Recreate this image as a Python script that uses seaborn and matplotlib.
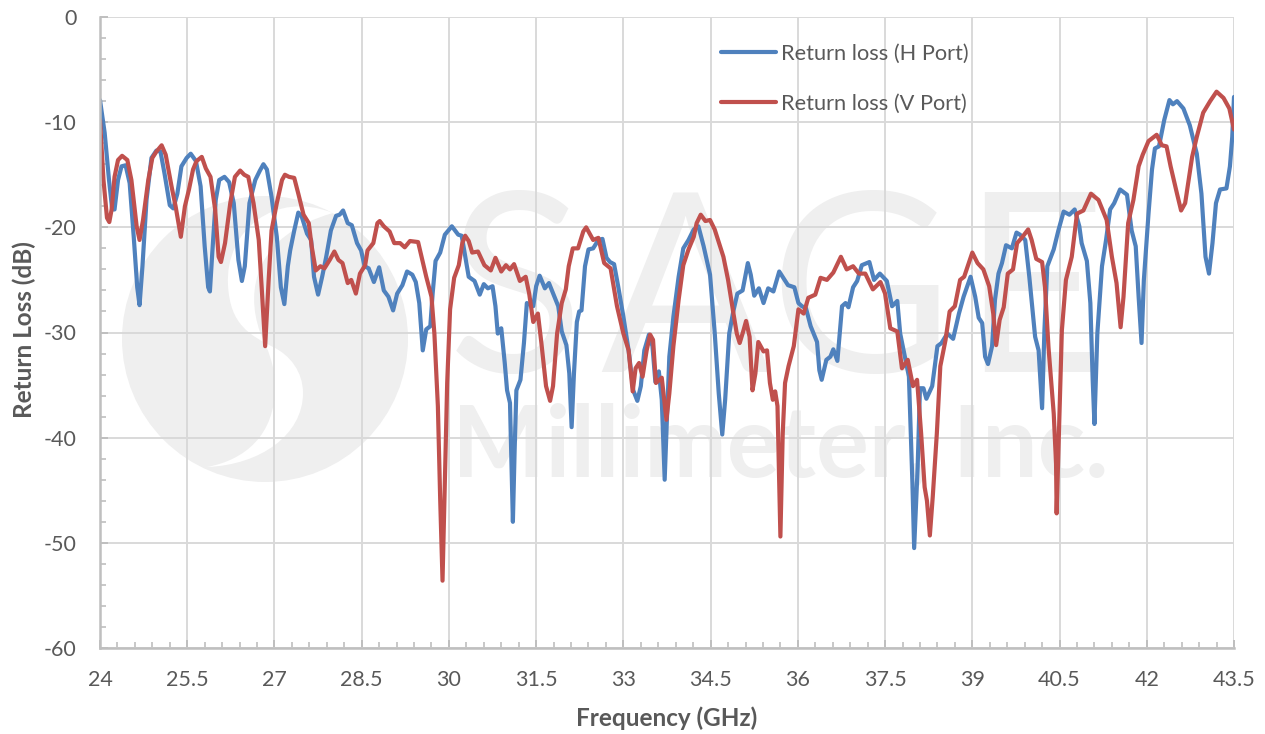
import matplotlib
matplotlib.use("Agg")
import matplotlib.pyplot as plt
from matplotlib.patches import Circle, PathPatch
from matplotlib.path import Path
from matplotlib.ticker import MultipleLocator, FuncFormatter
from matplotlib.transforms import Affine2D
import seaborn as sns

# значения
h_freq = [24, 24.08, 24.155, 24.21, 24.25, 24.31, 24.37, 24.44, 24.51, 24.58, 24.64, 24.68, 24.73, 24.8, 24.885, 24.97,
          25.04, 25.11, 25.2, 25.26, 25.33, 25.4, 25.49, 25.56, 25.65, 25.73, 25.8, 25.86, 25.89, 25.93, 25.99, 26.05,
          26.14, 26.22, 26.3, 26.38, 26.44, 26.49, 26.57, 26.67, 26.75, 26.81, 26.87, 26.95, 27.04, 27.11, 27.17, 27.23,
          27.27, 27.34, 27.41, 27.47, 27.56, 27.63, 27.68, 27.75, 27.82, 27.89, 27.97, 28.06, 28.12, 28.18, 28.26, 28.33,
          28.42, 28.49, 28.55, 28.62, 28.71, 28.8, 28.88, 28.96, 29.04, 29.11, 29.2, 29.28, 29.37, 29.43, 29.49, 29.55,
          29.61, 29.68, 29.72, 29.77, 29.85, 29.93, 30.05, 30.16, 30.22, 30.27, 30.34, 30.44, 30.53, 30.6, 30.67, 30.75,
          30.8, 30.84, 30.9, 30.96, 31, 31.05, 31.07, 31.1, 31.13, 31.16, 31.23, 31.29, 31.34, 31.45, 31.5, 31.56,
          31.65, 31.72, 31.8, 31.88, 31.94, 32.02, 32.07, 32.11, 32.15, 32.2, 32.24, 32.28, 32.34, 32.4, 32.48, 32.57,
          32.64, 32.71, 32.77, 32.84, 32.91, 33, 33.09, 33.17, 33.24, 33.3, 33.36, 33.44, 33.5, 33.55, 33.61, 33.66,
          33.71, 33.75, 33.79, 33.86, 33.95, 34.03, 34.12, 34.21, 34.29, 34.38, 34.49, 34.57, 34.64, 34.7, 34.75, 34.82,
          34.89, 34.96, 35.05, 35.14, 35.19, 35.25, 35.33, 35.41, 35.49, 35.58, 35.68, 35.75, 35.83, 35.94, 36.01, 36.07,
          36.14, 36.22, 36.33, 36.37, 36.41, 36.49, 36.56, 36.61, 36.68, 36.76, 36.82, 36.87, 36.95, 37.02, 37.1, 37.23,
          37.31, 37.41, 37.53, 37.62, 37.71, 37.76, 37.83, 37.91, 37.97, 38, 38.06, 38.1, 38.16, 38.21, 38.31, 38.4,
          38.47, 38.57, 38.67, 38.77, 38.85, 38.97, 39.05, 39.11, 39.17, 39.22, 39.27, 39.34, 39.39, 39.45, 39.51, 39.58,
          39.68, 39.76, 39.82, 39.91, 39.98, 40.08, 40.14, 40.2, 40.24, 40.29, 40.4, 40.48, 40.57, 40.67, 40.76, 40.84,
          40.88, 40.97, 41.03, 41.07, 41.1, 41.15, 41.23, 41.3, 41.37, 41.44, 41.54, 41.66, 41.74, 41.81, 41.86, 41.91,
          41.95, 42.03, 42.09, 42.14, 42.21, 42.3, 42.39, 42.45, 42.52, 42.63, 42.74, 42.86, 42.94, 43.01, 43.07, 43.13,
          43.19, 43.26, 43.37, 43.43, 43.47, 43.5]
h_loss = [-7.9, -11, -15.5, -18.3, -18.3, -15.5, -14.2, -14.1, -15.8, -20.9, -25.7, -27.4, -23.7, -17.4, -13.4, -12.7,
          -12.8, -14.9, -17.9, -18.2, -16.8, -14.2, -13.4, -13, -13.7, -16.1, -21.8, -25.7, -26.1, -22.5, -17.4, -15.5,
          -15.2, -15.7, -17.7, -23.1, -25.1, -23.7, -17.7, -15.5, -14.6, -14, -14.5, -17.1, -20.9, -25.7, -27.3, -23.7,
          -22.2, -20.3, -18.6, -19, -20.6, -21.2, -24.7, -26.4, -24.7, -22.8, -20.3, -18.9, -18.8, -18.4, -19.6, -19.8,
          -21.5, -22.2, -23.7, -23.9, -25.2, -23.8, -26, -26.6, -27.9, -26.3, -25.5, -24.2, -24.5, -25.2, -27.2, -31.7,
          -29.7, -29.4, -26.3, -23.2, -22.4, -20.7, -19.9, -20.7, -20.8, -22.4, -24.7, -25.1, -26.4, -25.4, -25.8, -25.6,
          -27.5, -30.1, -29.6, -32.9, -35.5, -36.7, -41.2, -48, -41.2, -35.5, -34.5, -31, -27.2, -27.5, -25.6, -24.6,
          -25.8, -25.3, -26.4, -27.5, -29.9, -31.2, -33.9, -39, -33.9, -29, -28, -27.9, -23.7, -22.1, -22, -21.2,
          -21.1, -22.9, -23.3, -23.5, -25.6, -28.5, -31.7, -35.5, -36.5, -35.1, -31.7, -30.2, -31.3, -34.7, -33.7, -36.4,
          -44, -38, -32.3, -28.5, -24.7, -22, -21.2, -20.2, -19.9, -21.8, -24.5, -30, -35.8, -39.7, -36.4, -30.1,
          -28, -26.3, -26, -23.4, -24.5, -26.5, -25.8, -27.2, -25.8, -26.1, -24.2, -24.8, -25.5, -25.7, -27.2, -27.5,
          -27.7, -29.4, -30.9, -33.6, -34.5, -32.6, -32.3, -31.6, -32.7, -27.5, -27.2, -27.6, -25.7, -25.1, -23.6, -23.3,
          -25, -24.4, -25.1, -27.5, -27, -30.1, -32, -34.2, -44.3, -50.5, -42.8, -35.3, -35.3, -36.3, -35.1, -31.3,
          -31, -30.1, -30.6, -28.2, -26.6, -24.7, -26.6, -28.6, -29.1, -32.3, -33, -31.3, -26.9, -24.4, -23.4, -21.7,
          -22, -20.5, -20.7, -21.2, -24.7, -30.4, -31.7, -37.2, -29.8, -23.7, -22.1, -20.3, -18.5, -18.8, -18.3, -19.9,
          -21.5, -23.2, -27.2, -34.5, -38.7, -30.1, -23.7, -21.2, -18.3, -17.7, -16.4, -16.9, -20.3, -21.8, -26.6, -31,
          -25, -18.7, -14.5, -12.5, -12.3, -9.8, -7.9, -8.3, -8, -8.7, -10.3, -13, -16.8, -22.8, -24.4, -21.5,
          -17.7, -16.4, -16.3, -14.2, -11.4, -7.6]

v_freq = [24, 24.06, 24.12, 24.16, 24.2, 24.25, 24.31, 24.38, 24.47, 24.54, 24.63, 24.68, 24.74, 24.83, 24.9, 24.97,
          25.06, 25.13, 25.23, 25.3, 25.39, 25.46, 25.53, 25.6, 25.66, 25.75, 25.82, 25.9, 25.98, 26.04, 26.08, 26.15,
          26.24, 26.32, 26.41, 26.48, 26.55, 26.64, 26.73, 26.78, 26.84, 26.9, 26.95, 27.04, 27.13, 27.18, 27.25, 27.34,
          27.41, 27.5, 27.59, 27.64, 27.71, 27.79, 27.86, 27.95, 28.03, 28.1, 28.17, 28.26, 28.32, 28.4, 28.47, 28.56,
          28.6, 28.7, 28.77, 28.81, 28.88, 28.98, 29.06, 29.16, 29.24, 29.33, 29.47, 29.61, 29.7, 29.75, 29.81, 29.85,
          29.89, 29.93, 29.97, 30.02, 30.09, 30.17, 30.23, 30.28, 30.34, 30.4, 30.5, 30.61, 30.72, 30.8, 30.9, 30.98,
          31.05, 31.12, 31.22, 31.32, 31.38, 31.45, 31.53, 31.59, 31.67, 31.74, 31.79, 31.86, 31.94, 32.01, 32.06, 32.13,
          32.22, 32.31, 32.36, 32.43, 32.48, 32.57, 32.67, 32.78, 32.89, 33, 33.09, 33.16, 33.21, 33.27, 33.33, 33.4,
          33.46, 33.51, 33.56, 33.66, 33.74, 33.79, 33.86, 33.95, 34.03, 34.12, 34.21, 34.26, 34.33, 34.41, 34.49, 34.57,
          34.72, 34.8, 34.89, 34.95, 35, 35.06, 35.11, 35.17, 35.22, 35.27, 35.32, 35.41, 35.47, 35.52, 35.57, 35.61,
          35.65, 35.7, 35.74, 35.78, 35.84, 35.93, 36.01, 36.1, 36.18, 36.3, 36.39, 36.5, 36.61, 36.74, 36.84, 36.95,
          37.05, 37.16, 37.29, 37.42, 37.5, 37.59, 37.71, 37.79, 37.89, 37.98, 38.05, 38.12, 38.18, 38.22, 38.27, 38.32,
          38.39, 38.45, 38.54, 38.61, 38.7, 38.79, 38.86, 39, 39.09, 39.19, 39.29, 39.36, 39.41, 39.47, 39.54, 39.61,
          39.7, 39.77, 39.85, 39.96, 40.02, 40.1, 40.2, 40.25, 40.31, 40.4, 40.44, 40.45, 40.49, 40.54, 40.61, 40.71,
          40.8, 40.91, 41.04, 41.17, 41.31, 41.4, 41.48, 41.55, 41.6, 41.68, 41.77, 41.86, 41.93, 42.03, 42.17, 42.26,
          42.34, 42.41, 42.52, 42.59, 42.66, 42.78, 42.86, 42.97, 43.09, 43.2, 43.32, 43.42, 43.5]
v_loss = [-9.8, -15.5, -19.1, -19.5, -18.3, -15.2, -13.6, -13.2, -13.6, -15.5, -19.9, -21.2, -19.3, -15.5, -13.4, -12.8,
          -12.2, -13.1, -16.1, -18, -20.9, -18, -16.4, -14.5, -13.7, -13.3, -14.4, -15.2, -18.3, -22.8, -23.3, -21.5,
          -17.7, -15.2, -14.6, -15, -15.2, -17.7, -21.2, -25.7, -31.3, -25, -20.3, -17.7, -15.5, -15, -15.2, -15.3,
          -16.8, -18.8, -19.6, -21.8, -24.1, -23.7, -23.9, -23.1, -22.3, -23.1, -23.4, -25.3, -25, -26.3, -24.4, -23.6,
          -22.2, -21.5, -19.6, -19.4, -19.9, -20.4, -21.5, -21.5, -21.9, -21.3, -21.4, -24.7, -26.6, -30.1, -37, -45.9,
          -53.6, -44.3, -34.8, -27.8, -24.8, -23.6, -21.5, -20.8, -21.3, -22.4, -22.3, -23.6, -24.1, -22.9, -24.2, -23.6,
          -24, -23.5, -25.1, -24.7, -26.3, -29, -28.2, -31, -35.1, -36.5, -35.1, -30.1, -27.2, -25.9, -23.7, -22,
          -22, -20.4, -20, -20.7, -21.2, -21, -23.4, -23.9, -27.5, -30.1, -31.7, -35.6, -33.4, -32.9, -34.2, -31.7,
          -30.2, -30.7, -34.8, -34.3, -38.3, -35.8, -31.3, -26.9, -23.6, -22.1, -20.9, -19.6, -18.8, -19.4, -19.3, -20.2,
          -22.8, -25, -28.1, -30.1, -31, -29.9, -28.9, -30.4, -35.5, -33.9, -30.9, -31.8, -31.7, -34.8, -36.4, -35.6,
          -37, -49.4, -39.6, -34.8, -33.2, -31.3, -27.8, -28.2, -26.7, -26.4, -24.8, -25, -24.3, -22.8, -24, -23.7,
          -24.4, -24.4, -25.9, -25.2, -26.3, -29.6, -29.9, -33.4, -32.6, -35.1, -34.5, -39.6, -44.7, -46, -49.3, -45.6,
          -39.6, -33.2, -30.7, -28, -27.5, -25, -24.7, -22.4, -23.4, -24, -25.6, -28.2, -31.2, -28.8, -27.6, -24.4,
          -24, -21.5, -21, -20.2, -21.2, -23, -23.3, -25.7, -31.4, -37.7, -42.5, -47.2, -39.3, -29.8, -25, -22.8,
          -18.7, -18.4, -16.8, -17.4, -19.3, -22.8, -25.3, -29.5, -26.6, -19.6, -17.4, -14.2, -13.1, -11.8, -11.2, -12.2,
          -12.3, -14.2, -16.8, -18.4, -17.7, -13.3, -11.4, -9.1, -8, -7.1, -7.7, -8.7, -10.7]

H_LABEL = "Return loss (H Port)"
V_LABEL = "Return loss (V Port)"
H_COLOR = "#4F81BD"
V_COLOR = "#C0504D"
GRID = "#D9D9D9"
AXIS = "#BFBFBF"
TEXT = "#595959"
MARK = "#EFEFEF"

W, H = 1265, 734

sns.set_style("white")
plt.rcParams["font.family"] = ["Lato", "DejaVu Sans"]

fig = plt.figure(figsize=(W / 100, H / 100), dpi=100)
ax = fig.add_axes([100 / W, 1 - 648 / H, 1134 / W, 631 / H])

# водяной знак, координаты в пикселях картинки (y вниз)
px = Affine2D().scale(1, -1).translate(0, H)
ax.add_patch(Circle((265, 339), 143, transform=px, fc=MARK, ec="none", zorder=0.1, clip_on=False))
swirl_pts = [(333, 213),
             (275, 190), (225, 230), (228, 285),
             (230, 325), (250, 335), (273, 347),
             (290, 355), (303, 372), (303, 393),
             (303, 435), (260, 465), (207, 467),
             (245, 460), (275, 435), (275, 387),
             (275, 365), (268, 350), (260, 332),
             (245, 290), (255, 235), (333, 213)]
swirl_codes = [Path.MOVETO] + [Path.CURVE4] * (len(swirl_pts) - 1)
ax.add_patch(PathPatch(Path(swirl_pts, swirl_codes), transform=px, fc="white", ec="none", zorder=0.2, clip_on=False))
for letter, left in zip("SAGE", [448, 600, 769, 961]):
    ax.text(left, 372, letter, transform=px, fontsize=180, color=MARK, ha="left", va="baseline", zorder=0.3)
ax.text(452, 477, "Millimeter, Inc.", transform=px, fontsize=71, fontweight="bold", color=MARK,
        ha="left", va="baseline", zorder=0.3)

line_kw = dict(estimator=None, linewidth=3, solid_joinstyle="round", ax=ax)
sns.lineplot(x=h_freq, y=h_loss, color=H_COLOR, label=H_LABEL, **line_kw)
sns.lineplot(x=v_freq, y=v_loss, color=V_COLOR, label=V_LABEL, **line_kw)

ax.set_xlim(24, 43.5)
ax.set_ylim(-60, 0)
ax.xaxis.set_major_locator(MultipleLocator(1.5))
ax.xaxis.set_minor_locator(MultipleLocator(0.3))
ax.yaxis.set_major_locator(MultipleLocator(10))
ax.yaxis.set_minor_locator(MultipleLocator(2))
ax.xaxis.set_major_formatter(FuncFormatter(lambda v, p: f"{v:g}"))
ax.yaxis.set_major_formatter(FuncFormatter(lambda v, p: f"{v:g}"))

ax.set_axisbelow(True)
ax.grid(True, which="major", color=GRID, linewidth=1.4)
ax.tick_params(which="major", direction="in", length=6, width=1.4, color=AXIS, labelsize=15.5, labelcolor=TEXT,
               bottom=True, left=True)
ax.tick_params(axis="x", which="major", pad=16)
ax.tick_params(axis="y", which="major", pad=17)
ax.tick_params(which="minor", direction="in", length=4, width=1.2, color=AXIS, bottom=True, left=True)

for side in ["top", "right"]:
    ax.spines[side].set_visible(False)
for side in ["left", "bottom"]:
    ax.spines[side].set_color(AXIS)
    ax.spines[side].set_linewidth(1.8)

ax.set_xlabel("Frequency (GHz)", fontsize=17.5, fontweight="bold", color=TEXT)
ax.set_ylabel("Return Loss (dB)", fontsize=17.5, fontweight="bold", color=TEXT)
ax.xaxis.set_label_coords(667 / W, 1 - 718 / H, transform=fig.transFigure)
ax.yaxis.set_label_coords(24 / W, 1 - 330 / H, transform=fig.transFigure)
ax.xaxis.label.set_va("center")
ax.yaxis.label.set_va("center")

leg = ax.legend(loc="upper left", bbox_to_anchor=(721 / W, 1 - 44 / H), bbox_transform=fig.transFigure,
                frameon=False, fontsize=15.7, handlelength=2.5, handletextpad=0.25, labelspacing=1.35, borderpad=0,
                borderaxespad=0, labelcolor=TEXT)

fig.savefig("out.png", dpi=100, facecolor="white")
